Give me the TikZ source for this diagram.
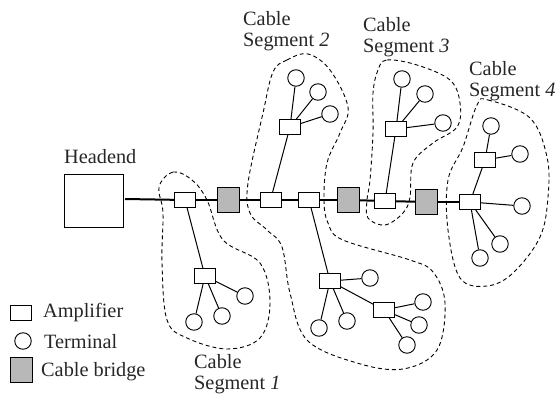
\documentclass[tikz,border=0pt]{standalone}
\usepackage{fontspec}
\setmainfont{Liberation Serif}
\tikzset{
  amplifier/.style={draw,fill=white,line width=1pt,inner sep=0pt,minimum width=21pt,minimum height=15pt},
  terminal/.style={draw,circle,fill=white,line width=0.9pt,inner sep=0pt,minimum size=16.5pt},
  bridge/.style={draw,fill=black!28,line width=0.9pt,inner sep=0pt,minimum width=22pt,minimum height=25pt},
  headbox/.style={draw,fill=white,line width=1pt,inner sep=0pt,minimum width=59pt,minimum height=53pt},
  label/.style={inner sep=0pt,anchor=west,align=left,font=\fontsize{20.3}{21}\selectfont,text=black!85},
  trunk/.style={line width=2pt},
  link/.style={line width=1pt},
  segment/.style={dash pattern=on 4pt off 3pt,line width=0.9pt},
}
\begin{document}
\begin{tikzpicture}[x=1pt,y=-1pt]
  \useasboundingbox (0,0) rectangle (556,393);
  % Dashed cable segments
  \draw[segment] plot[smooth cycle,tension=0.6] coordinates {(159,187) (173,172) (192,180) (207,200) (223,240) (260,263) (270,303) (260,338) (227,349) (187,338) (167,320) (162,263) (163,213)};
  \draw[segment] plot[smooth cycle,tension=0.6] coordinates {(273,72) (287,60) (308,54) (330,70) (348,107) (340,133) (327,163) (324,200) (328,223) (343,240) (410,260) (433,272) (445,303) (437,350) (403,369) (357,363) (307,340) (290,293) (282,247) (267,230) (250,213) (248,183) (263,113)};
  \draw[segment] plot[smooth cycle,tension=0.6] coordinates {(378,70) (387,60) (417,65) (450,80) (460,103) (457,127) (433,143) (413,163) (410,197) (403,213) (385,225) (368,218) (367,200) (370,180) (373,133) (373,93)};
  \draw[segment] plot[smooth cycle,tension=0.6] coordinates {(477,105) (488,100) (530,118) (547,157) (548,197) (540,237) (513,273) (487,286) (460,278) (448,230) (448,180) (463,147)};
  % Headend and trunk
  \node[headbox] (headend) at (93.5,200.5) {};
  \node[amplifier] (amp1) at (185,200) {};
  \node[bridge] (bridge1) at (228.5,200) {};
  \node[amplifier] (amp2) at (270.5,200) {};
  \node[amplifier] (amp3) at (309,200) {};
  \node[bridge] (bridge2) at (348.5,200) {};
  \node[amplifier] (amp4) at (385,201) {};
  \node[bridge] (bridge3) at (426.5,202) {};
  \node[amplifier] (amp5) at (470,202) {};
  \coordinate (trunkstart) at (125,199);
  \draw[trunk] (trunkstart) -- (amp1);
  \draw[trunk] (amp1) -- (bridge1);
  \draw[trunk] (bridge1) -- (amp2);
  \draw[trunk] (amp2) -- (amp3);
  \draw[trunk] (amp3) -- (bridge2);
  \draw[trunk] (bridge2) -- (amp4);
  \draw[trunk] (amp4) -- (bridge3);
  \draw[trunk] (bridge3) -- (amp5);
  % Branch amplifiers
  \node[amplifier] (ampa) at (205,276) {};
  \node[amplifier] (ampb) at (290,127) {};
  \node[amplifier] (ampc) at (396,129) {};
  \node[amplifier] (ampd) at (330,281) {};
  \node[amplifier] (ampe) at (384,310) {};
  \node[amplifier] (ampf) at (485,160) {};
  % Terminals
  \foreach \name/\pos in {ta1/{245,296},ta2/{222,316},ta3/{194,322},
    tb1/{296,78},tb2/{318,92},tb3/{330,114},
    tc1/{402,79},tc2/{425,94},tc3/{443,123},
    td1/{370,278},td2/{319,328},td3/{347,321},
    te1/{423,302},te2/{419,325},te3/{407,345},
    tf1/{491,126},tf2/{520,154},
    tg1/{522,206},tg2/{480,258},tg3/{500,244}}
    \node[terminal] (\name) at (\pos) {};
  % Branch links
  \draw[link] (amp1) -- (ampa);
  \draw[link] (amp2) -- (ampb);
  \draw[link] (amp4) -- (ampc);
  \draw[link] (amp3) -- (ampd);
  \draw[link] (ampd) -- (ampe);
  \draw[link] (amp5) -- (ampf);
  \foreach \from/\to in {ampa/ta1,ampa/ta2,ampa/ta3,
    ampb/tb1,ampb/tb2,ampb/tb3,
    ampc/tc1,ampc/tc2,ampc/tc3,
    ampd/td1,ampd/td2,ampd/td3,
    ampe/te1,ampe/te2,ampe/te3,
    ampf/tf1,ampf/tf2,
    amp5/tg1,amp5/tg2,amp5/tg3}
    \draw[link] (\from) -- (\to);
  % Labels
  \node[label] (headlabel) at (64,157) {Headend};
  \node[label] (seg1) at (194,374.5) {Cable\\Segment \textit{1}};
  \node[label] (seg2) at (243,31) {Cable\\Segment \textit{2}};
  \node[label] (seg3) at (363,37) {Cable\\Segment \textit{3}};
  \node[label] (seg4) at (469,81) {Cable\\Segment \textit{4}};
  % Legend
  \node[amplifier] (keyamp) at (21,313) {};
  \node[terminal] (keyterm) at (23,341) {};
  \node[bridge] (keybridge) at (21.5,370) {};
  \node[label] (keyamptext) at (43,313) {Amplifier};
  \node[label] (keytermtext) at (44,342) {Terminal};
  \node[label] (keybridgetext) at (41,372) {Cable bridge};
\end{tikzpicture}
\end{document}
